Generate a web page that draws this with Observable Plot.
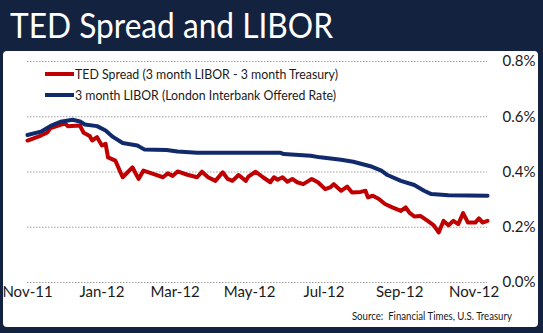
<!DOCTYPE html>
<html><head><meta charset="utf-8">
<script src="https://cdn.jsdelivr.net/npm/d3@7"></script>
<script src="https://cdn.jsdelivr.net/npm/@observablehq/plot@0.6"></script>
<style>
body{margin:0;background:#13223f;width:543px;height:333px;overflow:hidden;position:relative;font-family:Lato,"Open Sans",sans-serif}
#title{position:absolute;left:10px;top:3px;color:#fff;font-size:34px;line-height:44px;white-space:nowrap;transform-origin:0 0}
#panel{position:absolute;left:3px;top:51px;width:535px;height:276px;background:#fff;border-radius:4px}
#inner{position:absolute;left:0;top:8px;width:535px;height:268px}
#chart{position:absolute;left:0;top:0}
.sw{position:absolute;height:4px;width:29px}
.leg{position:absolute;font-size:14px;line-height:16px;color:#1a1a1a;white-space:nowrap;transform-origin:0 50%}
#source{position:absolute;font-size:11px;line-height:14px;color:#1a1a1a;white-space:nowrap;transform-origin:100% 50%}
</style>
</head><body>
<div id="title">TED Spread and LIBOR</div>
<div id="panel"><div id="inner">
  <div id="chart"></div>
  <div class="sw" style="left:42px;top:13px;background:#c00000"></div>
  <div class="leg" id="leg1" style="left:72px;top:7px">TED Spread (3 month LIBOR - 3 month Treasury)</div>
  <div class="sw" style="left:42px;top:34px;background:#102a6b"></div>
  <div class="leg" id="leg2" style="left:72px;top:28px">3 month LIBOR (London Interbank Offered Rate)</div>
  <div id="source" style="right:26px;top:250px">Source:&nbsp; Financial Times, U.S. Treasury</div>
</div></div>
<script>
const tedDates = ["2011-11-01","2011-11-06","2011-11-12","2011-11-17","2011-11-20","2011-11-28","2011-12-02","2011-12-04","2011-12-14","2011-12-17","2011-12-22","2011-12-24","2011-12-28","2012-01-01","2012-01-04","2012-01-06","2012-01-12","2012-01-18","2012-01-26","2012-01-31","2012-02-04","2012-02-12","2012-02-20","2012-02-24","2012-02-28","2012-03-03","2012-03-11","2012-03-19","2012-03-23","2012-03-28","2012-04-03","2012-04-09","2012-04-13","2012-04-17","2012-04-22","2012-04-28","2012-04-30","2012-05-06","2012-05-12","2012-05-18","2012-05-21","2012-05-24","2012-05-28","2012-06-01","2012-06-05","2012-06-09","2012-06-14","2012-06-21","2012-06-26","2012-07-02","2012-07-06","2012-07-09","2012-07-15","2012-07-20","2012-07-24","2012-07-31","2012-08-04","2012-08-06","2012-08-10","2012-08-15","2012-08-20","2012-08-26","2012-09-02","2012-09-06","2012-09-09","2012-09-13","2012-09-18","2012-09-24","2012-09-29","2012-10-03","2012-10-07","2012-10-11","2012-10-15","2012-10-19","2012-10-23","2012-10-27","2012-11-02","2012-11-05","2012-11-08","2012-11-12"];
const tedValues = [0.514,0.522,0.532,0.542,0.559,0.571,0.575,0.566,0.568,0.542,0.530,0.514,0.526,0.496,0.502,0.453,0.441,0.381,0.417,0.375,0.405,0.393,0.381,0.395,0.386,0.402,0.390,0.381,0.401,0.381,0.368,0.399,0.375,0.368,0.389,0.368,0.383,0.401,0.381,0.363,0.381,0.372,0.381,0.365,0.375,0.363,0.356,0.375,0.363,0.338,0.344,0.356,0.332,0.347,0.326,0.328,0.332,0.308,0.314,0.302,0.284,0.272,0.259,0.272,0.253,0.239,0.241,0.223,0.207,0.181,0.223,0.207,0.223,0.211,0.251,0.217,0.217,0.232,0.217,0.223];
const liborDates = ["2011-11-01","2011-11-12","2011-11-20","2011-11-28","2011-12-08","2011-12-14","2011-12-18","2011-12-28","2012-01-04","2012-01-10","2012-01-18","2012-01-30","2012-02-05","2012-02-23","2012-03-03","2012-03-19","2012-04-21","2012-05-26","2012-05-29","2012-06-20","2012-06-28","2012-07-15","2012-07-25","2012-08-08","2012-08-17","2012-08-22","2012-09-02","2012-09-13","2012-09-21","2012-09-27","2012-10-11","2012-11-12"];
const liborValues = [0.534,0.546,0.567,0.582,0.589,0.583,0.572,0.566,0.550,0.527,0.505,0.496,0.481,0.480,0.474,0.470,0.470,0.470,0.465,0.459,0.453,0.444,0.437,0.421,0.405,0.389,0.368,0.353,0.332,0.320,0.316,0.314];
const xTickLabels = ["2011-11-01","2012-01-01","2012-03-01","2012-05-01","2012-07-01","2012-09-01","2012-11-01"];
const yTicks = [0, 0.2, 0.4, 0.6, 0.8];

const ted = tedDates.map((d, i) => ({date: new Date(d), v: tedValues[i]}));
const libor = liborDates.map((d, i) => ({date: new Date(d), v: liborValues[i]}));
const xTicks = xTickLabels.map(d => new Date(d));

const chart = Plot.plot({
  width: 535, height: 249,
  marginLeft: 24, marginRight: 51, marginTop: 2, marginBottom: 26,
  x: {type: "utc", domain: [new Date("2011-11-01"), new Date("2012-11-12")], label: null},
  y: {domain: [0, 0.8], label: null},
  style: {fontFamily: "Lato, 'Open Sans', sans-serif", fontSize: "15px", color: "#1a1a1a", background: "transparent", overflow: "visible"},
  marks: [
    Plot.gridY(yTicks, {stroke: "#a0a0a0", strokeOpacity: 1, strokeWidth: 1, strokeDasharray: "1.5,1.5"}),
    Plot.axisY(yTicks, {anchor: "right", label: null, tickSize: 0, tickPadding: 15, tickFormat: d => d.toFixed(1) + "%"}),
    Plot.axisX(xTicks, {anchor: "bottom", label: null, tickSize: 0, tickPadding: 4, tickFormat: d3.utcFormat("%b-%y")}),
    Plot.lineY(ted, {x: "date", y: "v", stroke: "#c00000", strokeWidth: 4, strokeLinejoin: "round"}),
    Plot.lineY(libor, {x: "date", y: "v", stroke: "#102a6b", strokeWidth: 4, strokeLinejoin: "round"})
  ]
});
document.getElementById("chart").appendChild(chart);

function fit(id, target) {
  const el = document.getElementById(id);
  const w = el.getBoundingClientRect().width;
  el.style.transform = "scaleX(" + (target / w) + ")";
}
fit("title", 323);
fit("leg1", 263);
fit("leg2", 261);
fit("source", 160);
</script>
</body></html>
